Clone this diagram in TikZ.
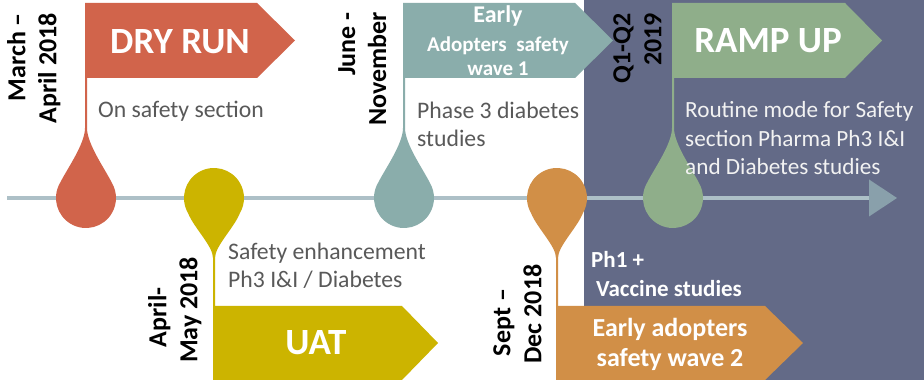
\documentclass[tikz,border=0pt]{standalone}
\usepackage{fontspec}
\setmainfont{Carlito}
\definecolor{dryc}{RGB}{209,100,75}
\definecolor{uatc}{RGB}{204,180,0}
\definecolor{tealc}{RGB}{138,173,171}
\definecolor{orangec}{RGB}{209,143,71}
\definecolor{greenc}{RGB}{143,174,138}
\definecolor{darkbg}{RGB}{99,106,135}
\definecolor{tlc}{RGB}{173,192,199}
\definecolor{tlhead}{RGB}{137,160,171}
\definecolor{notegray}{RGB}{89,89,89}
\definecolor{notewhite}{RGB}{242,242,242}
% pin with stem going up to the flag bottom (y=302)
\newcommand\tlpinup[3]{%
  \fill[#1] (#2-1,302) -- (#2-1,#3+70)
    .. controls (#2-1,#3+54) and (#2-19,#3+29) .. (#2-26,#3+15)
    arc[start angle=150, end angle=390, radius=30pt]
    .. controls (#2+19,#3+29) and (#2+1,#3+54) .. (#2+1,#3+70)
    -- (#2+1,302) -- cycle;}
% pin with stem going down to the flag top (y=74)
\newcommand\tlpindown[3]{%
  \fill[#1] (#2-1,74) -- (#2-1,#3-60)
    .. controls (#2-1,#3-48) and (#2-20,#3-30) .. (#2-26,#3-15)
    arc[start angle=210, end angle=-30, radius=30pt]
    .. controls (#2+20,#3-30) and (#2+1,#3-48) .. (#2+1,#3-60)
    -- (#2+1,74) -- cycle;}
\begin{document}
\begin{tikzpicture}[x=1pt,y=1pt,
  title/.style={text=white, font=\bfseries\fontsize{37}{42}\selectfont, inner sep=0pt, anchor=base},
  note/.style={text=notegray, font=\fontsize{23.7}{28.5}\selectfont, inner sep=0pt, align=left, anchor=base west},
  datelbl/.style={rotate=90, font=\bfseries\fontsize{26}{31}\selectfont, inner sep=0pt, text=black},
  flagtext/.style={text=white, font=\bfseries\fontsize{21}{26}\selectfont, inner sep=0pt, align=center}]
\useasboundingbox (0,0) rectangle (924,380);
\fill[white] (0,0) rectangle (924,380);
\fill[darkbg] (584,0) rectangle (924,380);
% timeline
\coordinate (tlstart) at (7,182);
\coordinate (tlend) at (870,182);
\draw[line width=4pt, tlc] (tlstart) -- (tlend);
\fill[tlhead] (869,200.5) -- (897,182) -- (869,163.5) -- cycle;
% DRY RUN
\tlpinup{dryc}{86}{182}
\fill[dryc] (85,377) -- (257,377) -- (295,339.5) -- (257,302) -- (85,302) -- cycle;
\node[title] (dry) at (180,326.7) {DRY RUN};
\node[note] (drynote) at (98,262) {On safety section};
\node[datelbl, align=right, anchor=north east] (drydate) at (7,367) {March –\\April 2018};
% UAT
\tlpindown{uatc}{214}{182}
\fill[uatc] (213,74) -- (402,74) -- (438,37) -- (402,0) -- (213,0) -- cycle;
\node[title] (uat) at (316,25) {UAT};
\node[note] (uatnote) at (228,92) {Safety enhancement\\Ph3 I\&I / Diabetes};
\node[datelbl, align=center, anchor=north] (uatdate) at (148,70) {April-\rule{15pt}{0pt}\\May 2018};
% Early adopters wave 1
\tlpinup{tealc}{404}{182}
\fill[tealc] (403,377) -- (575,377) -- (613,339.5) -- (575,302) -- (403,302) -- cycle;
\node[flagtext, anchor=base] (w1) at (498,304) {{\fontsize{24}{26}\selectfont Early}\\[3pt]Adopters\ \ safety\\[-2pt]wave 1};
\node[note] (w1note) at (417,233) {Phase 3 diabetes\\studies};
\node[datelbl, align=right, anchor=north east] (w1date) at (338,368) {June -\\November};
% Early adopters wave 2
\tlpindown{orangec}{557}{182}
\fill[orangec] (556,74) -- (765,74) -- (803,37) -- (765,0) -- (556,0) -- cycle;
\node[flagtext, font=\bfseries\fontsize{26}{30}\selectfont, anchor=base] (w2) at (670,13) {Early adopters\\safety wave 2};
\node[text=white, font=\bfseries\fontsize{23}{29}\selectfont, inner sep=0pt, align=left, anchor=base west] (w2note) at (591,83) {Ph1 +\\\hspace*{5pt}Vaccine studies};
\node[datelbl, align=center, anchor=north] (w2date) at (493,66) {Sept –\rule{17pt}{0pt}\\Dec 2018};
% RAMP UP
\tlpinup{greenc}{673}{182}
\fill[greenc] (672,377) -- (845,377) -- (882,339.5) -- (845,302) -- (672,302) -- cycle;
\node[title] (ramp) at (768,327) {RAMP UP};
\node[note, text=notewhite, font=\fontsize{23.2}{28.5}\selectfont] (rampnote) at (685,205) {Routine mode for Safety\\section Pharma Ph3 I\&I\\and Diabetes studies};
\node[datelbl, align=right, anchor=north east] (rampdate) at (613,367) {Q1-Q2\\2019};
\end{tikzpicture}
\end{document}
